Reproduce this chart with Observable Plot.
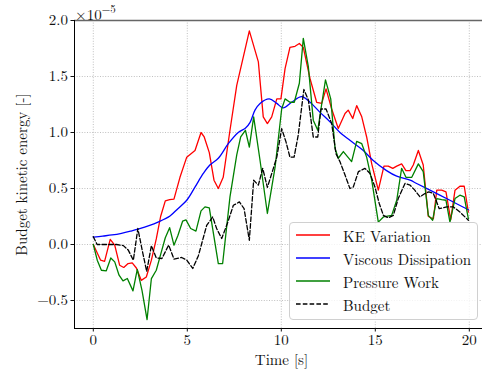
<!DOCTYPE html>
<html>
<head>
<meta charset="utf-8">
<script src="https://cdn.jsdelivr.net/npm/d3@7"></script>
<script src="https://cdn.jsdelivr.net/npm/@observablehq/plot@0.6"></script>
<style>
  html, body { margin: 0; padding: 0; background: #fff; }
  #wrap { position: relative; width: 482px; height: 372px; overflow: hidden; font-family: 'Latin Modern Roman'; }
  #offset { position: absolute; left: 75px; top: 2px; font-size: 15px; color: #111; white-space: nowrap; font-family: 'Latin Modern Roman'; }
  #offset sup { font-size: 11px; position: relative; top: -1px; }
  #legend { position: absolute; left: 289px; top: 222px; width: 189px; height: 98px; box-sizing: border-box;
            border: 1px solid #d0d0d0; border-radius: 4px; background: rgba(255,255,255,0.8); }
  .row { position: absolute; left: 6px; height: 20px; display: flex; align-items: center; }
  .row svg { width: 34px; height: 10px; margin-right: 13px; }
  .row span { font-size: 15px; color: #111; white-space: nowrap; font-family: 'Latin Modern Roman'; }
</style>
</head>
<body>
<div id="wrap"></div>
<script>
// ---- data (values in units of 1e-5) ----
const keTime = [0, 0.39, 0.6, 0.9, 1.14, 1.4, 1.62, 1.85, 2.07, 2.29, 2.55, 2.82, 3.09, 3.35, 3.58, 3.83, 4.06, 4.29, 4.61, 4.97, 5.41, 5.73, 5.9, 6.17, 6.42, 6.65, 6.91, 7.27, 7.63, 7.98, 8.3, 8.78, 9.04, 9.26, 9.49, 9.76, 9.98, 10.2, 10.46, 10.73, 10.96, 11.17, 11.53, 11.88, 12.15, 12.38, 12.68, 13.03, 13.39, 13.56, 13.8, 14.01, 14.28, 14.54, 14.81, 15.16, 15.46, 15.69, 15.93, 16.14, 16.4, 16.63, 16.85, 17.02, 17.29, 17.55, 17.82, 18.09, 18.27, 18.53, 18.76, 19.01, 19.24, 19.5, 19.73, 19.95];
const keValue = [0, -0.14, -0.15, 0.045, -0.006, -0.185, -0.205, -0.17, -0.164, -0.21, -0.32, -0.29, -0.14, 0.05, 0.25, 0.39, 0.40, 0.405, 0.60, 0.78, 0.84, 1.0, 0.96, 0.82, 0.574, 0.5, 0.60, 1.02, 1.42, 1.675, 1.907, 1.63, 1.14, 1.08, 1.14, 1.30, 1.30, 1.57, 1.76, 1.77, 1.795, 1.76, 1.48, 1.27, 1.26, 1.39, 1.21, 1.035, 1.17, 1.2, 1.125, 1.24, 1.14, 0.96, 0.72, 0.485, 0.70, 0.70, 0.68, 0.70, 0.72, 0.66, 0.66, 0.71, 0.84, 0.71, 0.25, 0.23, 0.485, 0.485, 0.47, 0.22, 0.485, 0.52, 0.52, 0.29];

const viscTime = [0, 0.5, 1, 1.5, 2, 2.38, 3, 3.44, 4.08, 4.5, 4.97, 5.4, 5.85, 6.2, 6.65, 7.18, 7.71, 8.1, 8.34, 8.6, 8.87, 9.36, 9.76, 10.1, 10.55, 11.08, 11.53, 12.06, 12.59, 13.12, 13.65, 14.36, 14.89, 15.6, 16.14, 16.85, 17.2, 18.09, 18.97, 19.95];
const viscValue = [0.065, 0.075, 0.085, 0.10, 0.12, 0.137, 0.17, 0.20, 0.255, 0.32, 0.395, 0.51, 0.634, 0.71, 0.77, 0.9, 1.0, 1.04, 1.09, 1.2, 1.26, 1.30, 1.26, 1.22, 1.27, 1.32, 1.27, 1.18, 1.095, 1.0, 0.93, 0.84, 0.75, 0.66, 0.61, 0.574, 0.545, 0.47, 0.395, 0.31];

const pressTime = [0, 0.21, 0.43, 0.69, 0.93, 1.14, 1.37, 1.58, 1.81, 2.11, 2.34, 2.59, 2.86, 3.09, 3.35, 3.62, 3.83, 4.06, 4.29, 4.5, 4.75, 4.93, 5.18, 5.46, 5.73, 5.94, 6.17, 6.42, 6.65, 6.88, 7.27, 7.63, 7.84, 8.09, 8.3, 8.53, 8.87, 9.26, 9.67, 10.02, 10.2, 10.46, 10.69, 10.96, 11.17, 11.44, 11.7, 11.94, 12.11, 12.35, 12.63, 12.86, 13.03, 13.3, 13.74, 14.01, 14.28, 14.54, 14.81, 15.16, 15.43, 15.87, 16.14, 16.4, 16.63, 16.94, 17.29, 17.55, 17.82, 18.05, 18.27, 18.53, 18.76, 18.97, 19.24, 19.5, 19.73, 19.95];
const pressValue = [0, -0.14, -0.23, -0.235, -0.12, -0.155, -0.274, -0.325, -0.304, -0.414, -0.223, -0.41, -0.67, -0.304, -0.23, -0.066, 0.06, 0.15, -0.006, 0.08, 0.208, 0.22, 0.143, 0.12, 0.30, 0.336, 0.327, 0.068, -0.17, -0.17, 0.425, 0.80, 0.96, 1.02, 0.87, 1.14, 0.75, 0.277, 0.69, 1.21, 1.30, 1.27, 1.27, 1.44, 1.84, 1.585, 1.11, 1.02, 1.21, 1.47, 1.30, 0.857, 0.77, 0.83, 0.74, 0.92, 0.90, 0.78, 0.574, 0.20, 0.246, 0.26, 0.395, 0.68, 0.60, 0.60, 0.72, 0.65, 0.26, 0.217, 0.41, 0.40, 0.395, 0.2, 0.41, 0.44, 0.425, 0.23];

const budgetTime = [0, 0.2, 0.7, 1.24, 1.6, 1.86, 2.13, 2.37, 2.6, 2.84, 3.09, 3.35, 3.65, 4.01, 4.29, 4.7, 4.97, 5.29, 5.59, 6.03, 6.35, 6.56, 6.83, 7.13, 7.45, 7.77, 8.02, 8.3, 8.53, 8.78, 9.01, 9.26, 9.54, 9.76, 10.02, 10.25, 10.46, 10.68, 10.9, 11.2, 11.44, 11.7, 11.94, 12.11, 12.38, 12.68, 12.91, 13.12, 13.39, 13.65, 13.83, 14.1, 14.45, 14.72, 14.98, 15.21, 15.43, 15.69, 15.96, 16.22, 16.58, 16.85, 17.1, 17.38, 17.64, 17.85, 18.09, 18.4, 18.8, 19.15, 19.5, 19.95];
const budgetValue = [0.07, 0, 0, 0, -0.01, -0.05, -0.14, 0.143, -0.05, -0.24, -0.01, -0.12, -0.125, -0.005, -0.13, -0.116, -0.14, -0.214, -0.1, 0.17, 0.246, 0.143, 0.054, 0.187, 0.35, 0.38, 0.32, 0.038, 0.574, 0.53, 0.68, 0.51, 0.66, 0.78, 1.035, 0.916, 0.78, 0.78, 0.976, 1.384, 1.29, 0.96, 0.96, 1.21, 1.21, 1.08, 0.81, 0.74, 0.62, 0.5, 0.514, 0.65, 0.68, 0.634, 0.514, 0.366, 0.26, 0.238, 0.26, 0.41, 0.545, 0.53, 0.485, 0.425, 0.455, 0.47, 0.455, 0.32, 0.336, 0.336, 0.29, 0.217];

const xTicks = [0, 5, 10, 15, 20];
const yTicks = [-0.5, 0.0, 0.5, 1.0, 1.5, 2.0];
const seriesNames = ["KE Variation", "Viscous Dissipation", "Pressure Work", "Budget"];
const seriesColors = ["#ff0000", "#0000ff", "#008000", "#000000"];
const xLabel = "Time [s]";
const yLabel = "Budget kinetic energy [-]";
const offsetLabel = "−5";

const zip = (ts, vs) => ts.map((t, i) => ({t, v: vs[i]}));
const ke = zip(keTime, keValue);
const visc = zip(viscTime, viscValue);
const press = zip(pressTime, pressValue);
const budget = zip(budgetTime, budgetValue);

const chart = Plot.plot({
  width: 482,
  height: 372,
  marginLeft: 74,
  marginRight: 0,
  marginTop: 20,
  marginBottom: 44,
  style: {fontFamily: "'Latin Modern Roman'", fontSize: "15px", background: "white", color: "#111"},
  x: {domain: [-1, 21], range: [74, 487.6]},
  y: {domain: [-0.75, 2.0], range: [328, 20]},
  marks: [
    Plot.gridX(xTicks, {stroke: "#b0b0b0", strokeOpacity: 1, strokeWidth: 0.8, strokeDasharray: "1,1.6"}),
    Plot.gridY(yTicks, {stroke: "#b0b0b0", strokeOpacity: 1, strokeWidth: 0.8, strokeDasharray: "1,1.6"}),
    Plot.line(ke, {x: "t", y: "v", stroke: seriesColors[0], strokeWidth: 1.3}),
    Plot.line(visc, {x: "t", y: "v", stroke: seriesColors[1], strokeWidth: 1.3, curve: "catmull-rom"}),
    Plot.line(press, {x: "t", y: "v", stroke: seriesColors[2], strokeWidth: 1.3}),
    Plot.line(budget, {x: "t", y: "v", stroke: seriesColors[3], strokeWidth: 1.3, strokeDasharray: "4.6,2.2"}),
    Plot.ruleY([2.0], {stroke: "#666", strokeWidth: 1.5}),
    Plot.ruleY([-0.75], {stroke: "#000", strokeWidth: 1}),
    Plot.ruleX([-1], {stroke: "#000", strokeWidth: 1}),
    Plot.axisX({ticks: xTicks, tickSize: 3.5, tickPadding: 2.5, tickFormat: d => String(d), label: null, fontSize: 15, fill: "#111"}),
    Plot.axisY({ticks: yTicks, tickSize: 3.5, tickPadding: 3, tickFormat: d3.format(".1f"), label: null, fontSize: 15, fill: "#111"}),
    Plot.text([xLabel], {frameAnchor: "bottom", textAnchor: "middle", lineAnchor: "middle", dx: 3, dy: 32, fontSize: 15, fill: "#111"}),
    Plot.text([yLabel], {frameAnchor: "left", textAnchor: "middle", lineAnchor: "middle", rotate: -90, dx: -52, fontSize: 15, fill: "#111"})
  ]
});

const wrap = document.getElementById("wrap");
wrap.appendChild(chart);

const off = document.createElement("div");
off.id = "offset";
off.innerHTML = "×10<sup>" + offsetLabel + "</sup>";
wrap.appendChild(off);

const legend = document.createElement("div");
legend.id = "legend";
const rowTops = [2, 25, 48, 71];
seriesNames.forEach((name, i) => {
  const row = document.createElement("div");
  row.className = "row";
  row.style.top = rowTops[i] + "px";
  const dash = i === 3 ? ' stroke-dasharray="4.6,2.2"' : "";
  row.innerHTML = `<svg viewBox="0 0 34 10"><line x1="0" y1="5" x2="34" y2="5" stroke="${seriesColors[i]}" stroke-width="1.3"${dash}/></svg><span>${name}</span>`;
  legend.appendChild(row);
});
wrap.appendChild(legend);
</script>
</body>
</html>
